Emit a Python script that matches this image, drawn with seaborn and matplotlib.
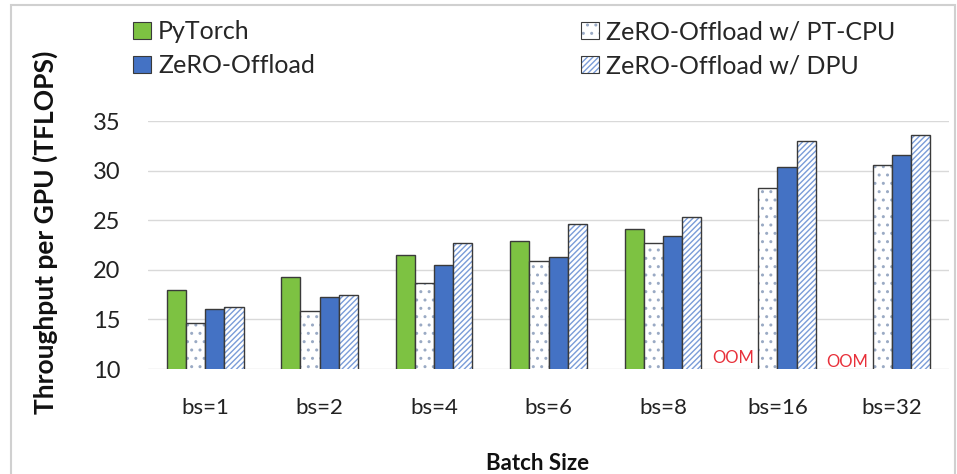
import numpy as np
import pandas as pd
import seaborn as sns
import matplotlib.pyplot as plt
from matplotlib.patches import Patch, Rectangle
from matplotlib.colors import to_rgba

categories = ["bs=1", "bs=2", "bs=4", "bs=6", "bs=8", "bs=16", "bs=32"]
series = ["PyTorch", "ZeRO-Offload w/ PT-CPU", "ZeRO-Offload", "ZeRO-Offload w/ DPU"]
pytorch = [18.0, 19.3, 21.5, 22.9, 24.1, np.nan, np.nan]
zero_ptcpu = [14.6, 15.8, 18.7, 20.9, 22.7, 28.2, 30.6]
zero_offload = [16.0, 17.3, 20.5, 21.3, 23.4, 30.4, 31.6]
zero_dpu = [16.2, 17.45, 22.7, 24.6, 25.3, 33.0, 33.6]
oom_labels = ["bs=16", "bs=32"]
yticks = [10, 15, 20, 25, 30, 35]

sns.set_theme(style="white")
plt.rcParams['font.family'] = ['Lato', 'DejaVu Sans']

rows = []
for name, vals in zip(series, [pytorch, zero_ptcpu, zero_offload, zero_dpu]):
    for c, v in zip(categories, vals):
        rows.append({"Batch Size": c, "Series": name, "TFLOPS": v})
df = pd.DataFrame(rows)

green = "#7DC242"
blue = "#4472C4"
hatch_blue = "#7A9CD8"
dot_col = "#9AAAC4"
edge = "#3A3A3A"

fig = plt.figure(figsize=(9.57, 4.74), dpi=100)
ax = fig.add_axes([148/957, 105/474, 801/957, 248/474])

palette = {series[0]: green, series[1]: "white", series[2]: blue, series[3]: "white"}
sns.barplot(data=df, x="Batch Size", y="TFLOPS", hue="Series", hue_order=series,
            order=categories, palette=palette, width=0.67, gap=0,
            edgecolor=edge, linewidth=1.0, ax=ax, legend=False, errorbar=None,
            saturation=1)

style = {
    series[0]: dict(fc=green, hatch=None, hc=None),
    series[1]: dict(fc="white", hatch="..", hc=dot_col),
    series[2]: dict(fc=blue, hatch=None, hc=None),
    series[3]: dict(fc="white", hatch="//////", hc=hatch_blue),
}
for cont, name in zip(ax.containers, series):
    st = style[name]
    for p in cont.patches:
        p.set_facecolor(st["fc"])
        p.set_edgecolor(edge)
        p.set_linewidth(1.0)
        if st["hatch"]:
            p.set_hatch(st["hatch"])
            p._hatch_color = to_rgba(st["hc"])

ax.set_ylim(10, 35)
ax.set_yticks(yticks)
ax.set_xlim(-0.5, len(categories) - 0.5)
ax.yaxis.grid(True, color="#D9D9D9", linewidth=1.0)
ax.set_axisbelow(True)
for s in ax.spines.values():
    s.set_visible(False)
ax.tick_params(axis="y", labelsize=17, pad=20, length=0, colors="#222222")
ax.tick_params(axis="x", labelsize=16, pad=21, length=0, colors="#222222")
ax.set_xlabel("Batch Size", fontsize=16, fontweight="bold", color="#111111")
ax.set_ylabel("Throughput per GPU (TFLOPS)", fontsize=19, fontweight="bold",
              color="#111111")
ax.xaxis.set_label_coords((538 - 148) / 801, (369 - 453) / 248)
ax.yaxis.set_label_coords((58 - 148) / 801, 0.55)

oom_y = {"bs=16": 11.1, "bs=32": 10.7}
for lab in oom_labels:
    i = categories.index(lab)
    ax.text(i - 0.39, oom_y[lab], "OOM", color="#E8303A", fontsize=12,
            ha="center", va="center")

def make_handles(names):
    hs = []
    for name in names:
        st = style[name]
        hs.append(Patch(facecolor=st["fc"], edgecolor=edge, linewidth=0.8,
                        hatch=st["hatch"] if st["hatch"] else None, label=name))
    return hs

def fix_hatch(leg, names):
    for h, name in zip(leg.legend_handles, names):
        st = style[name]
        if st["hatch"]:
            h._hatch_color = to_rgba(st["hc"])

left_names = ["PyTorch", "ZeRO-Offload"]
right_names = ["ZeRO-Offload w/ PT-CPU", "ZeRO-Offload w/ DPU"]
common = dict(loc="upper left", frameon=False, fontsize=18, handlelength=0.7,
              handleheight=0.7, handletextpad=0.3, labelspacing=0.45,
              borderpad=0, borderaxespad=0)
leg1 = fig.legend(handles=make_handles(left_names),
                  bbox_to_anchor=(133/957, 1 - 20/474), **common)
fix_hatch(leg1, left_names)
leg2 = fig.legend(handles=make_handles(right_names),
                  bbox_to_anchor=(581/957, 1 - 20/474), **common)
fix_hatch(leg2, right_names)

fig.patches.append(Rectangle((11/957, -0.01), 944/957, 1 - 5/474 + 0.01,
                             transform=fig.transFigure, fill=False,
                             edgecolor="#D0D0D0", linewidth=1.5))

fig.savefig("out.png", dpi=100)
